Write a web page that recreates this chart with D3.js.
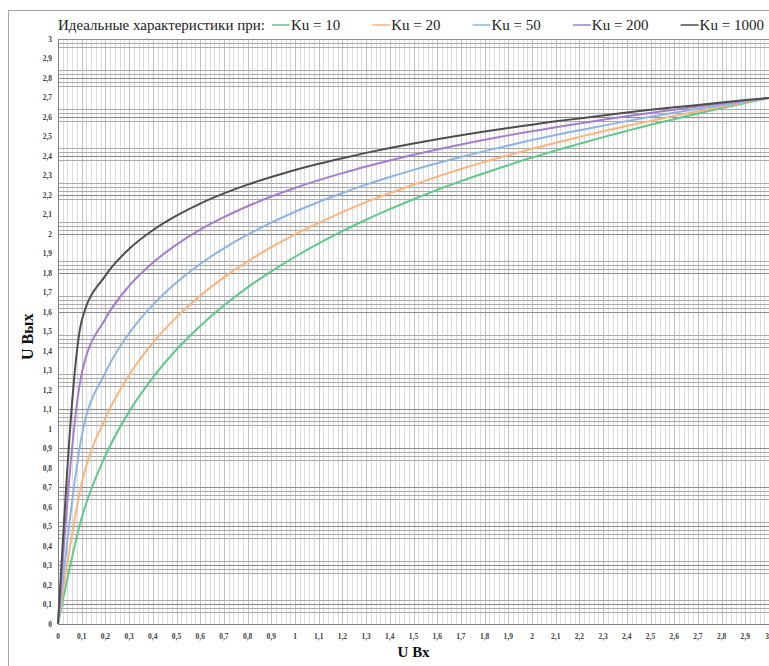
<!DOCTYPE html>
<html lang="ru">
<head>
<meta charset="utf-8">
<style>
    body { margin: 0; background: #fff; }
    svg { display: block; font-family: "Liberation Serif", "Times New Roman", serif; }
    .tick-label { font-size: 7.5px; font-weight: bold; fill: #404040; }
    .axis-title { font-size: 15px; font-weight: bold; fill: #111; }
    .legend text { font-size: 15px; fill: #222; }
</style>
<script src="https://cdn.jsdelivr.net/npm/d3@7"></script>
</head>
<body>
<svg width="769" height="666"></svg>
<script>

    // U Вх, step 0.1
    var uIn = [0, 0.1, 0.2, 0.3, 0.4, 0.5, 0.6, 0.7, 0.8, 0.9, 1.0,
        1.1, 1.2, 1.3, 1.4, 1.5, 1.6, 1.7, 1.8, 1.9, 2.0,
        2.1, 2.2, 2.3, 2.4, 2.5, 2.6, 2.7, 2.8, 2.9, 3.0];

    // U Вых for each Ku
    var ku10 = [0, 0.545, 0.864, 1.090, 1.265, 1.409, 1.530, 1.635, 1.728, 1.810, 1.885,
        1.954, 2.017, 2.075, 2.129, 2.180, 2.228, 2.273, 2.315, 2.355, 2.394,
        2.430, 2.465, 2.499, 2.531, 2.562, 2.591, 2.620, 2.648, 2.674, 2.700];
    var ku20 = [0, 0.722, 1.057, 1.278, 1.443, 1.575, 1.685, 1.779, 1.861, 1.934, 2.000,
        2.059, 2.114, 2.165, 2.212, 2.255, 2.296, 2.335, 2.372, 2.406, 2.439,
        2.470, 2.500, 2.529, 2.556, 2.582, 2.608, 2.632, 2.655, 2.678, 2.700];
    var ku50 = [0, 0.964, 1.290, 1.492, 1.638, 1.753, 1.848, 1.928, 1.998, 2.060, 2.116,
        2.166, 2.212, 2.255, 2.294, 2.331, 2.365, 2.397, 2.427, 2.456, 2.484,
        2.510, 2.534, 2.558, 2.581, 2.603, 2.624, 2.644, 2.663, 2.682, 2.700];
    var ku200 = [0, 1.285, 1.567, 1.735, 1.854, 1.947, 2.024, 2.088, 2.144, 2.194, 2.238,
        2.278, 2.314, 2.348, 2.379, 2.408, 2.435, 2.461, 2.485, 2.508, 2.529,
        2.550, 2.569, 2.588, 2.606, 2.623, 2.640, 2.656, 2.671, 2.686, 2.700];
    var ku1000 = [0, 1.556, 1.788, 1.925, 2.021, 2.096, 2.158, 2.210, 2.255, 2.294, 2.330,
        2.362, 2.391, 2.418, 2.443, 2.466, 2.488, 2.509, 2.528, 2.546, 2.563,
        2.580, 2.595, 2.610, 2.625, 2.639, 2.652, 2.664, 2.677, 2.689, 2.700];

    var seriesNames = ["Ku = 10", "Ku = 20", "Ku = 50", "Ku = 200", "Ku = 1000"];
    var seriesValues = [ku10, ku20, ku50, ku200, ku1000];
    var seriesColors = ["#5fc98b", "#fbb47c", "#8db4e2", "#a67dcc", "#4f4f4f"];

    var legendTitle = "Идеальные характеристики при:";
    var xTitle = "U Вх", yTitle = "U Вых";

    var svg = d3.select("svg"),
        width = +svg.attr("width"),
        height = +svg.attr("height");

    var x = d3.scaleLinear().domain([0, 3]).range([58, 769]);
    var y = d3.scaleLinear().domain([0, 3]).range([624, 39.5]);

    // outer frame
    svg.append("rect")
        .attr("x", 8.5).attr("y", 10.5)
        .attr("width", width + 10).attr("height", height + 10)
        .attr("fill", "none").attr("stroke", "#a6a6a6");

    var grid = svg.append("g").attr("shape-rendering", "crispEdges");

    var minor = d3.range(0, 151).map(function(i) { return i / 50; });
    var major = d3.range(0, 31).map(function(i) { return i / 10; });

    // vertical grid
    grid.selectAll(".vmin").data(minor).enter().append("line")
        .attr("x1", function(d) { return Math.round(x(d)) + 0.5; })
        .attr("x2", function(d) { return Math.round(x(d)) + 0.5; })
        .attr("y1", y(3)).attr("y2", y(0))
        .attr("stroke", "#dcdcdc");
    grid.selectAll(".vmaj").data(major).enter().append("line")
        .attr("x1", function(d) { return Math.round(x(d)) + 0.5; })
        .attr("x2", function(d) { return Math.round(x(d)) + 0.5; })
        .attr("y1", y(3)).attr("y2", y(0))
        .attr("stroke", "#c2c2c2");

    // horizontal grid: thin bars, only drawn where they hit a pixel row (moire look)
    grid.selectAll(".hmin").data(minor).enter().append("rect")
        .attr("x", x(0)).attr("width", x(3) - x(0))
        .attr("y", function(d) { return y(d) - 0.2; })
        .attr("height", 0.45)
        .attr("fill", function(d, i) { return i % 5 === 0 ? "#8c8c8c" : "#ababab"; });

    // axes
    svg.append("line")
        .attr("x1", x(0)).attr("x2", x(3))
        .attr("y1", Math.round(y(0)) + 0.5).attr("y2", Math.round(y(0)) + 0.5)
        .attr("stroke", "#808080").attr("shape-rendering", "crispEdges");
    svg.append("line")
        .attr("x1", Math.round(x(0)) + 0.5).attr("x2", Math.round(x(0)) + 0.5)
        .attr("y1", y(3)).attr("y2", y(0))
        .attr("stroke", "#808080").attr("shape-rendering", "crispEdges");

    var fmt = function(d) { return d3.format("~g")(+d.toFixed(1)).replace(".", ","); };

    svg.append("g").selectAll("text").data(major).enter().append("text")
        .attr("class", "tick-label")
        .attr("x", function(d) { return x(d); })
        .attr("y", 639)
        .attr("text-anchor", function(d) { return d === 3 ? "end" : "middle"; })
        .text(fmt);

    svg.append("g").selectAll("text").data(major).enter().append("text")
        .attr("class", "tick-label")
        .attr("x", 52)
        .attr("y", function(d) { return y(d) + 2.5; })
        .attr("text-anchor", "end")
        .text(fmt);

    // curves
    var line = d3.line()
        .x(function(d, i) { return x(uIn[i]); })
        .y(function(d) { return y(d); })
        .curve(d3.curveMonotoneX);

    svg.append("g").selectAll("path").data(seriesValues).enter().append("path")
        .attr("d", line)
        .attr("fill", "none")
        .attr("stroke", function(d, i) { return seriesColors[i]; })
        .attr("stroke-width", 2);

    // axis titles
    svg.append("text")
        .attr("class", "axis-title")
        .attr("x", (x(0) + x(3)) / 2)
        .attr("y", 657)
        .attr("text-anchor", "middle")
        .text(xTitle);

    svg.append("text")
        .attr("class", "axis-title")
        .attr("transform", "translate(33," + ((y(0) + y(3)) / 2 + 5) + ") rotate(-90)")
        .attr("text-anchor", "middle")
        .style("font-size", "16px")
        .text(yTitle);

    // legend
    var legend = svg.append("g").attr("class", "legend");
    var title = legend.append("text")
        .attr("x", 58).attr("y", 30)
        .text(legendTitle);

    var cx = 58 + title.node().getComputedTextLength() + 7;
    seriesNames.forEach(function(name, i) {
        legend.append("line")
            .attr("x1", cx).attr("x2", cx + 18)
            .attr("y1", 25).attr("y2", 25)
            .attr("stroke", seriesColors[i])
            .attr("stroke-width", 1.5);
        var t = legend.append("text")
            .attr("x", cx + 19).attr("y", 30)
            .text(name);
        cx += 19 + t.node().getComputedTextLength() + 32;
    });
</script>
</body>
</html>
